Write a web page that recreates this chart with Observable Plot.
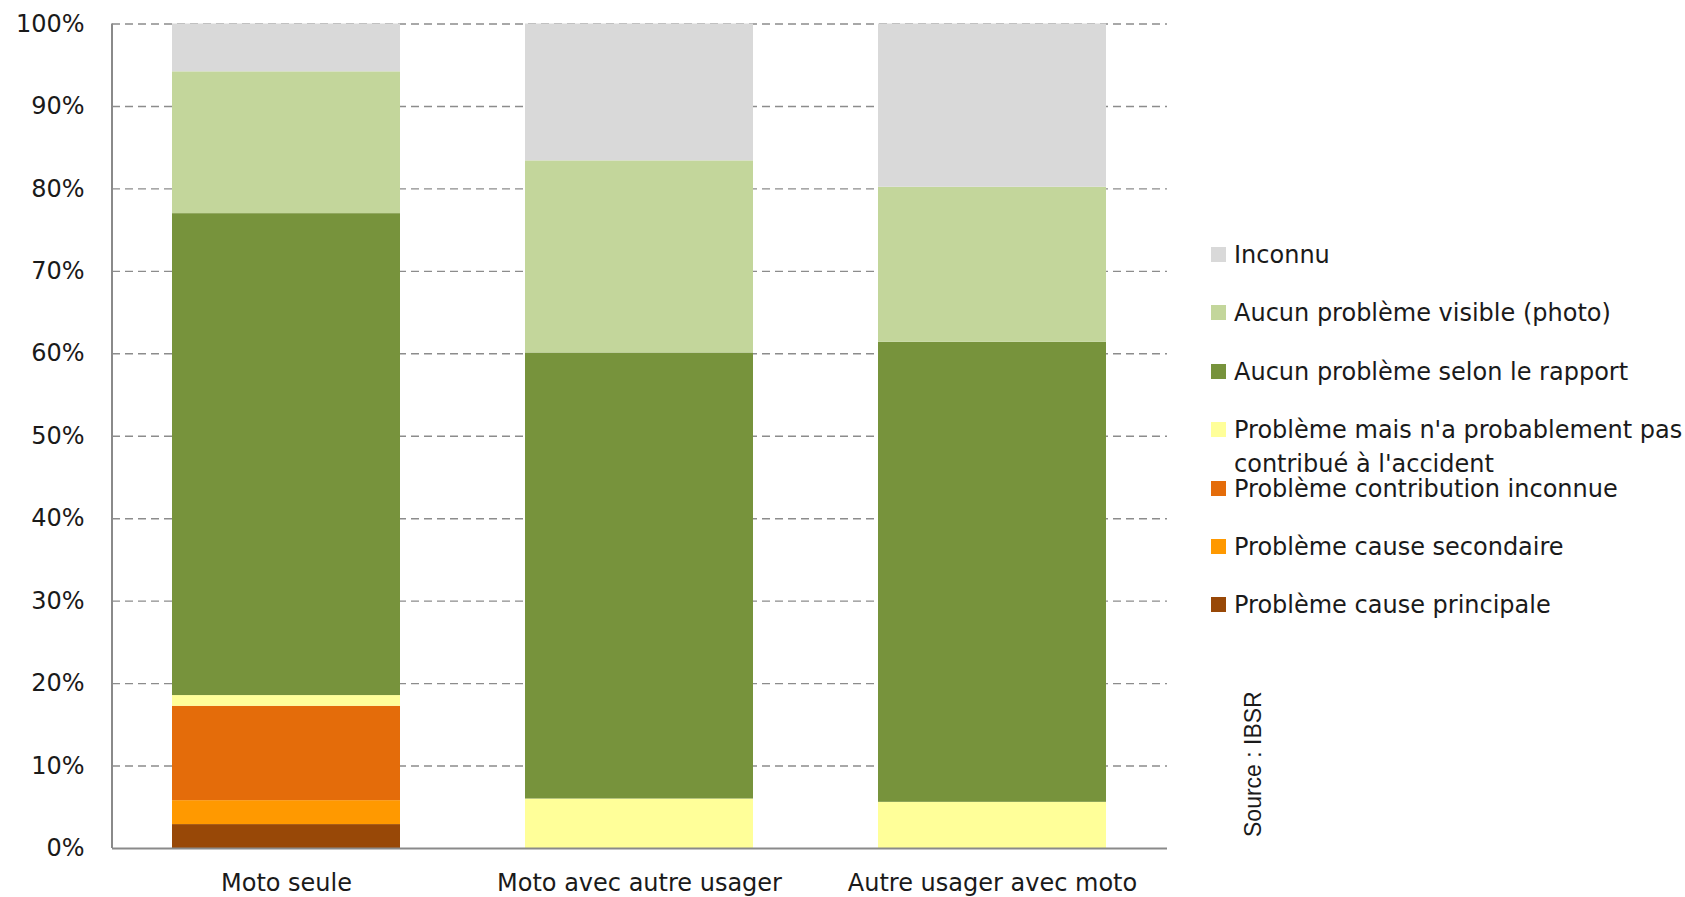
<!DOCTYPE html>
<html><head><meta charset="utf-8">
<script src="https://cdn.jsdelivr.net/npm/d3@7"></script>
<script src="https://cdn.jsdelivr.net/npm/@observablehq/plot@0.6"></script>
<style>
body{margin:0;background:#fff;}
#wrap{position:relative;width:1685px;height:897px;overflow:hidden;font-family:"DejaVu Sans",sans-serif;}
.leg{position:absolute;left:1211px;font-size:24px;line-height:34px;color:#1a1a1a;white-space:pre;}
.sw{position:absolute;left:0;top:9px;width:15px;height:15px;}
.lt{position:absolute;left:23px;top:0;}
</style></head><body><div id="wrap"></div>
<script>
const categories = ["Moto seule", "Moto avec autre usager", "Autre usager avec moto"];
const series = [
  "Problème cause principale",
  "Problème cause secondaire",
  "Problème contribution inconnue",
  "Problème mais n'a probablement pas contribué à l'accident",
  "Aucun problème selon le rapport",
  "Aucun problème visible (photo)",
  "Inconnu"
];
const legendLabels = [
  "Problème cause principale",
  "Problème cause secondaire",
  "Problème contribution inconnue",
  "Problème mais n'a probablement pas\ncontribué à l'accident",
  "Aucun problème selon le rapport",
  "Aucun problème visible (photo)",
  "Inconnu"
];
const colors = ["#984807", "#FF9900", "#E46C0A", "#FFFF99", "#77933C", "#C3D69B", "#D9D9D9"];
const causePrincipale = [2.9, 0, 0];
const causeSecondaire = [2.9, 0, 0];
const contributionInconnue = [11.45, 0, 0];
const pasContribue = [1.3, 6.0, 5.6];
const selonRapport = [58.45, 54.1, 55.8];
const visiblePhoto = [17.2, 23.3, 18.8];
const inconnu = [5.8, 16.6, 19.8];
const yTicks = [0, 10, 20, 30, 40, 50, 60, 70, 80, 90, 100];
const sourceText = "Source : IBSR";

const seriesValues = [causePrincipale, causeSecondaire, contributionInconnue, pasContribue, selonRapport, visiblePhoto, inconnu];
const data = [];
series.forEach((s, i) => categories.forEach((c, j) => {
  if (seriesValues[i][j] > 0) data.push({category: c, series: s, value: seriesValues[i][j]});
}));

const chart = Plot.plot({
  width: 1685, height: 897,
  marginLeft: 112, marginRight: 518, marginTop: 23.5, marginBottom: 49,
  style: {fontFamily: "DejaVu Sans, sans-serif", fontSize: "24px", color: "#1a1a1a", background: "white", overflow: "visible"},
  x: {domain: categories, paddingInner: 0.353, paddingOuter: 0.17, label: null, tickSize: 0, tickPadding: 25},
  y: {domain: [0, 100], label: null, ticks: yTicks, tickFormat: d => d + "%", tickSize: 0, tickPadding: 28},
  color: {domain: series, range: colors},
  marks: [
    Plot.ruleY(yTicks.filter(d => d > 0), {stroke: "#8c8c8c", strokeDasharray: "8,5", strokeWidth: 1.4}),
    Plot.barY(data, {x: "category", y: "value", fill: "series", order: series}),
    Plot.ruleY([0], {stroke: "#8a8a8a", strokeWidth: 2})
  ]
});

const wrap = document.getElementById("wrap");
wrap.appendChild(chart);

// left axis line
const ys = chart.scale("y");
d3.select(chart).append("line")
  .attr("x1", 112).attr("x2", 112)
  .attr("y1", ys.apply(0)).attr("y2", ys.apply(100))
  .attr("stroke", "#8a8a8a").attr("stroke-width", 2);

// legend (top to bottom = reverse of stacking order)
const legendOrder = series.map((s, i) => i).reverse();
legendOrder.forEach((idx, row) => {
  const center = 254 + row * 58.4;
  const item = document.createElement("div");
  item.className = "leg";
  item.style.top = (center - 16) + "px";
  const sw = document.createElement("div");
  sw.className = "sw";
  sw.style.background = colors[idx];
  const t = document.createElement("div");
  t.className = "lt";
  t.textContent = legendLabels[idx];
  item.appendChild(sw); item.appendChild(t);
  wrap.appendChild(item);
});

// source note
const ns = "http://www.w3.org/2000/svg";
const ov = document.createElementNS(ns, "svg");
ov.setAttribute("width", 1685); ov.setAttribute("height", 897);
ov.style.position = "absolute"; ov.style.left = "0"; ov.style.top = "0"; ov.style.pointerEvents = "none";
const st = document.createElementNS(ns, "text");
st.setAttribute("transform", "translate(1261,837) rotate(-90)");
st.setAttribute("font-family", "Liberation Sans, Arial, sans-serif");
st.setAttribute("font-size", "23");
st.setAttribute("fill", "#1a1a1a");
st.textContent = sourceText;
ov.appendChild(st);
wrap.appendChild(ov);
</script></body></html>
